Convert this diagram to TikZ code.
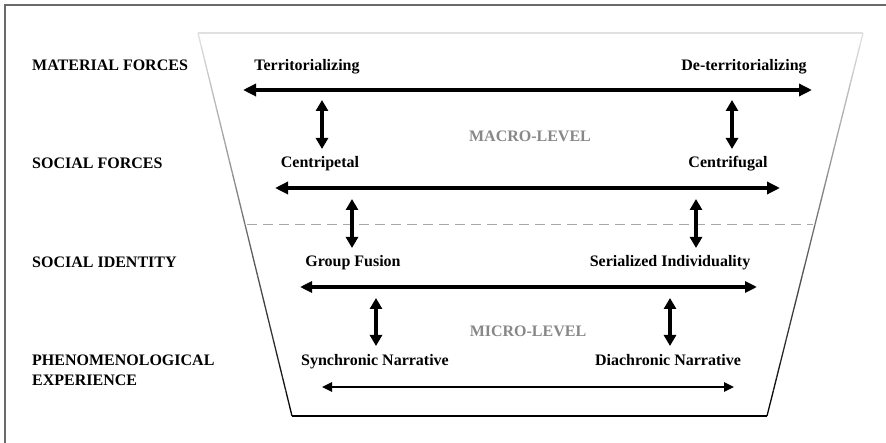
\documentclass[tikz,border=0pt]{standalone}
\usepackage{fontspec}
\setmainfont{Liberation Serif}
\usetikzlibrary{arrows.meta,calc}
\definecolor{framegray}{HTML}{6A6A6A}
\definecolor{levelgray}{HTML}{888888}
\definecolor{dashgray}{HTML}{A8A8A8}
\tikzset{
  lbl/.style={font=\fontsize{16}{19}\selectfont\bfseries, inner sep=0pt, anchor=base},
  rowlbl/.style={lbl, anchor=base west, align=left},
  lvl/.style={lbl, text=levelgray},
  harrow/.style={{Triangle[length=13pt,width=12pt]}-{Triangle[length=13pt,width=12pt]}},
  varrow/.style={line width=3.8pt,{Triangle[length=11pt,width=12pt]}-{Triangle[length=11pt,width=12pt]}},
}
\begin{document}
\begin{tikzpicture}[x=1pt,y=-1pt]
\useasboundingbox (0,0) rectangle (886,443);
\fill[white] (0,0) rectangle (886,443);
% frame
\draw[framegray, line width=1.6pt] (5,443) -- (5,5) -- (886,5);
% trapezoid
\coordinate (TL) at (198,33);
\coordinate (TR) at (863,33);
\coordinate (BR) at (767,416);
\coordinate (BL) at (292,416);
\draw[black!12, line width=1.3pt] (TL) -- (TR);
\foreach \i in {0,...,29}{
  \pgfmathsetmacro{\ta}{\i/30}
  \pgfmathsetmacro{\tb}{(\i+1)/30}
  \pgfmathsetmacro{\pc}{int(12+88*(\i+0.5)/30)}
  \draw[black!\pc, line width=1.3pt] ($(TL)!\ta!(BL)$) -- ($(TL)!\tb!(BL)$);
  \draw[black!\pc, line width=1.3pt] ($(TR)!\ta!(BR)$) -- ($(TR)!\tb!(BR)$);
}
\draw[black, line width=1.5pt] (BL) -- (BR);
% dashed divider
\coordinate (DL) at ($(TL)!0.5!(BL)$);
\coordinate (DR) at ($(TR)!0.5!(BR)$);
\draw[dashgray, line width=1.3pt, dash pattern=on 10pt off 6pt] ([xshift=2pt]DL) -- ([xshift=-2pt]DR);
% row labels
\node[rowlbl] (mat) at (32,71) {MATERIAL FORCES};
\node[rowlbl] (soc) at (32,169) {SOCIAL FORCES};
\node[rowlbl] (sid) at (32,268) {SOCIAL IDENTITY};
\node[rowlbl] (phe) at (32,366) {PHENOMENOLOGICAL};
\node[rowlbl] (exp) at (32,385) {EXPERIENCE};
% level labels
\node[lvl] (macro) at (530,142) {MACRO-LEVEL};
\node[lvl] (micro) at (528,337) {MICRO-LEVEL};
% pole labels
\node[lbl] (terr) at (307,71) {Territorializing};
\node[lbl] (deterr) at (744,71) {De-territorializing};
\node[lbl] (cpet) at (320,168) {Centripetal};
\node[lbl] (cfug) at (728,168) {Centrifugal};
\node[lbl] (gf) at (353,267) {Group Fusion};
\node[lbl] (si) at (670,267) {Serialized Individuality};
\node[lbl] (sn) at (375,366) {Synchronic Narrative};
\node[lbl] (dn) at (668,366) {Diachronic Narrative};
% horizontal arrow ends
\coordinate (h1l) at (243,90);  \coordinate (h1r) at (812,90);
\coordinate (h2l) at (275,188); \coordinate (h2r) at (780,188);
\coordinate (h3l) at (300,287); \coordinate (h3r) at (757,287);
\coordinate (h4l) at (322,387); \coordinate (h4r) at (734,387);
\draw[harrow, line width=4.5pt] (h1l) -- (h1r);
\draw[harrow, line width=4pt] (h2l) -- (h2r);
\draw[line width=3.3pt, {Triangle[length=12pt,width=11pt]}-{Triangle[length=12pt,width=11pt]}] (h3l) -- (h3r);
\draw[line width=2.4pt, {Triangle[length=10pt,width=9pt]}-{Triangle[length=10pt,width=9pt]}] (h4l) -- (h4r);
% vertical arrow ends
\coordinate (v1a) at (322,100); \coordinate (v1b) at (322,149);
\coordinate (v2a) at (732,100); \coordinate (v2b) at (732,149);
\coordinate (v3a) at (352,199); \coordinate (v3b) at (352,248);
\coordinate (v4a) at (696,199); \coordinate (v4b) at (696,248);
\coordinate (v5a) at (376,298); \coordinate (v5b) at (376,346);
\coordinate (v6a) at (670,298); \coordinate (v6b) at (670,346);
\draw[varrow] (v1a) -- (v1b);
\draw[varrow] (v2a) -- (v2b);
\draw[varrow] (v3a) -- (v3b);
\draw[varrow] (v4a) -- (v4b);
\draw[varrow] (v5a) -- (v5b);
\draw[varrow] (v6a) -- (v6b);
\end{tikzpicture}
\end{document}
